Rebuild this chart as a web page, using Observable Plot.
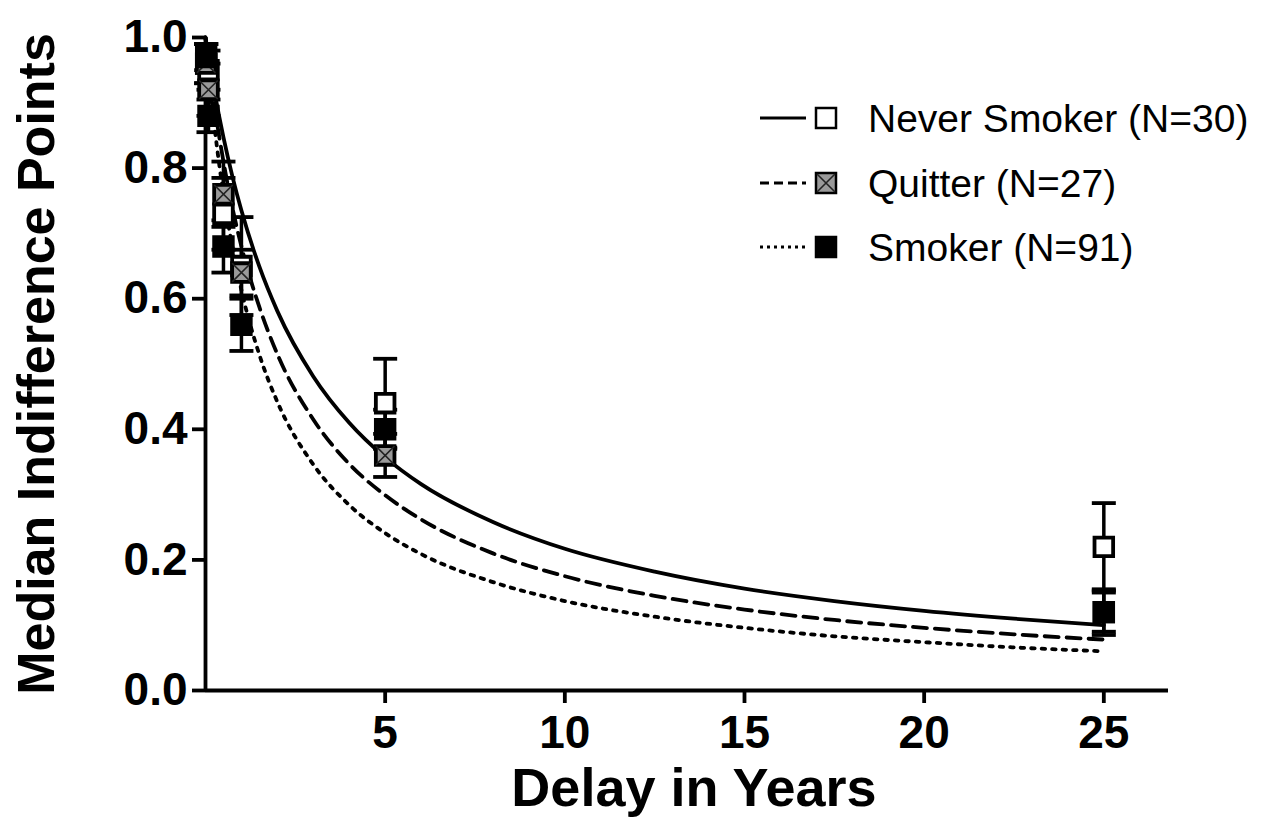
<!DOCTYPE html>
<html>
<head>
<meta charset="utf-8">
<script src="https://cdn.jsdelivr.net/npm/d3@7"></script>
<script src="https://cdn.jsdelivr.net/npm/@observablehq/plot@0.6"></script>
<style>
  html, body { margin: 0; padding: 0; background: #fff; }
  #chart { position: relative; width: 1262px; height: 819px; }
</style>
</head>
<body>
<div id="chart"></div>
<script>
// ---- data ----
const groups = ["Never Smoker (N=30)", "Quitter (N=27)", "Smoker (N=91)"];
const delays = [0.019, 0.083, 0.5, 1, 5, 25];           // years
const neverValues   = [0.96, 0.95, 0.73, 0.65, 0.44, 0.22];
const neverErrors   = [0.03, 0.03, 0.055, 0.075, 0.068, 0.067];
const quitterValues = [0.96, 0.92, 0.76, 0.64, 0.36, 0.12];
const quitterErrors = [0.03, 0.04, 0.05, 0.035, 0.033, 0.03];
const smokerValues  = [0.97, 0.88, 0.68, 0.56, 0.40, 0.12];
const smokerErrors  = [0.02, 0.025, 0.04, 0.04, 0.03, 0.035];

// fitted curves
const curveDelays  = [0, 0.25, 0.5, 0.75, 1, 1.5, 2, 3, 4, 5, 6, 8, 10, 12.5, 15, 17.5, 20, 22.5, 25];
const neverCurve   = [1, 0.917, 0.847, 0.787, 0.735, 0.649, 0.581, 0.481, 0.410, 0.357, 0.316, 0.258, 0.217, 0.182, 0.156, 0.137, 0.122, 0.110, 0.100];
const quitterCurve = [1, 0.895, 0.810, 0.739, 0.680, 0.587, 0.515, 0.415, 0.347, 0.299, 0.262, 0.210, 0.175, 0.145, 0.124, 0.108, 0.096, 0.086, 0.078];
const smokerCurve  = [1, 0.864, 0.760, 0.679, 0.613, 0.514, 0.442, 0.346, 0.284, 0.241, 0.209, 0.166, 0.137, 0.113, 0.096, 0.083, 0.074, 0.066, 0.060];

const yTicks = [0, 0.2, 0.4, 0.6, 0.8, 1.0];
const xTicks = [5, 10, 15, 20, 25];

// ---- tables ----
const seriesValues = [neverValues, quitterValues, smokerValues];
const seriesErrors = [neverErrors, quitterErrors, smokerErrors];
const points = groups.flatMap((g, gi) => delays.map((d, i) => ({
  group: g, gi, delay: d, value: seriesValues[gi][i], err: seriesErrors[gi][i],
  lo: seriesValues[gi][i] - seriesErrors[gi][i], hi: seriesValues[gi][i] + seriesErrors[gi][i]
})));
const curves = [neverCurve, quitterCurve, smokerCurve];
const curveRows = groups.flatMap((g, gi) => curveDelays.map((d, i) => ({group: g, gi, delay: d, value: curves[gi][i]})));

const dashes = ["none", "14,8", "3.5,7"];
const capSymbol = { draw(ctx, size) { const w = Math.sqrt(size / Math.PI); ctx.moveTo(-w, 0); ctx.lineTo(w, 0); } };

const marks = [
  Plot.ruleX([0], {stroke: "black", strokeWidth: 3.8}),
  Plot.ruleY([0], {stroke: "black", strokeWidth: 3.8}),
  Plot.axisY({ticks: yTicks, tickFormat: d3.format(".1f"), tickSize: 13, tickPadding: 5, strokeWidth: 3.8, label: null}),
  Plot.axisX({ticks: xTicks, tickSize: 13, tickPadding: 12, strokeWidth: 3.8, label: null}),
];
groups.forEach((g, gi) => {
  marks.push(Plot.line(curveRows.filter(d => d.gi === gi), {
    x: "delay", y: "value", curve: "monotone-x", stroke: "black", strokeWidth: 3.8,
    strokeDasharray: dashes[gi]
  }));
});
// error bars
marks.push(Plot.ruleX(points, {x: "delay", y1: "lo", y2: "hi", stroke: "black", strokeWidth: 3.5}));
marks.push(Plot.dot(points, {x: "delay", y: "hi", symbol: capSymbol, r: 12, fill: "none", stroke: "black", strokeWidth: 3.8}));
marks.push(Plot.dot(points, {x: "delay", y: "lo", symbol: capSymbol, r: 12, fill: "none", stroke: "black", strokeWidth: 3.8}));
// points: never, quitter, smoker
const neverPts = points.filter(d => d.gi === 0);
const quitPts = points.filter(d => d.gi === 1);
const smokPts = points.filter(d => d.gi === 2);
marks.push(Plot.dot(neverPts, {x: "delay", y: "value", symbol: "square", r: 10.5, fill: "white", stroke: "black", strokeWidth: 3.8}));
marks.push(Plot.dot(quitPts, {x: "delay", y: "value", symbol: "square", r: 10.5, fill: "#9a9a9a", stroke: "black", strokeWidth: 3.8}));
marks.push(Plot.dot(quitPts, {x: "delay", y: "value", symbol: "times", r: 8.5, fill: "none", stroke: "#222", strokeWidth: 1.6}));
marks.push(Plot.dot(smokPts, {x: "delay", y: "value", symbol: "square", r: 10.5, fill: "black", stroke: "black", strokeWidth: 3.8}));

const plot = Plot.plot({
  width: 1262,
  height: 819,
  marginLeft: 205,
  marginRight: 94,
  marginTop: 37,
  marginBottom: 129,
  x: {domain: [0, 26.8]},
  y: {domain: [0, 1]},
  style: "font-family: 'Liberation Sans', Arial, sans-serif; font-size: 46px; font-weight: bold; color: black; background: white; overflow: visible;",
  marks
});
document.getElementById("chart").appendChild(plot);

// ---- titles & legend ----
const svg = d3.select(plot);
svg.append("text")
  .attr("x", 694).attr("y", 806)
  .attr("text-anchor", "middle")
  .attr("font-size", 54).attr("font-weight", "bold").attr("fill", "black")
  .text("Delay in Years");
svg.append("text")
  .attr("transform", "translate(54,364) rotate(-90)")
  .attr("text-anchor", "middle")
  .attr("font-size", 52).attr("font-weight", "bold").attr("fill", "black")
  .text("Median Indifference Points");

const legend = svg.append("g");
const rowY = [118, 183, 247];
const legendDash = ["none", "9,5", "3,4"];
groups.forEach((g, gi) => {
  const row = legend.append("g").attr("transform", `translate(0,${rowY[gi]})`);
  row.append("line").attr("x1", 760).attr("x2", 806).attr("y1", 0).attr("y2", 0)
    .attr("stroke", "black").attr("stroke-width", 2.8).attr("stroke-dasharray", legendDash[gi]);
  const fill = gi === 0 ? "white" : gi === 1 ? "#9a9a9a" : "black";
  row.append("rect").attr("x", 816).attr("y", -10).attr("width", 20).attr("height", 20)
    .attr("fill", fill).attr("stroke", "black").attr("stroke-width", 2.5);
  if (gi === 1) {
    row.append("path").attr("d", "M817,-9L835,9M817,9L835,-9").attr("stroke", "#222").attr("stroke-width", 1.6);
  }
  row.append("text").attr("x", 868).attr("y", 0).attr("dy", "0.35em")
    .attr("text-anchor", "start")
    .attr("font-size", 39).attr("font-weight", "normal").attr("fill", "black")
    .text(g);
});
</script>
</body>
</html>
